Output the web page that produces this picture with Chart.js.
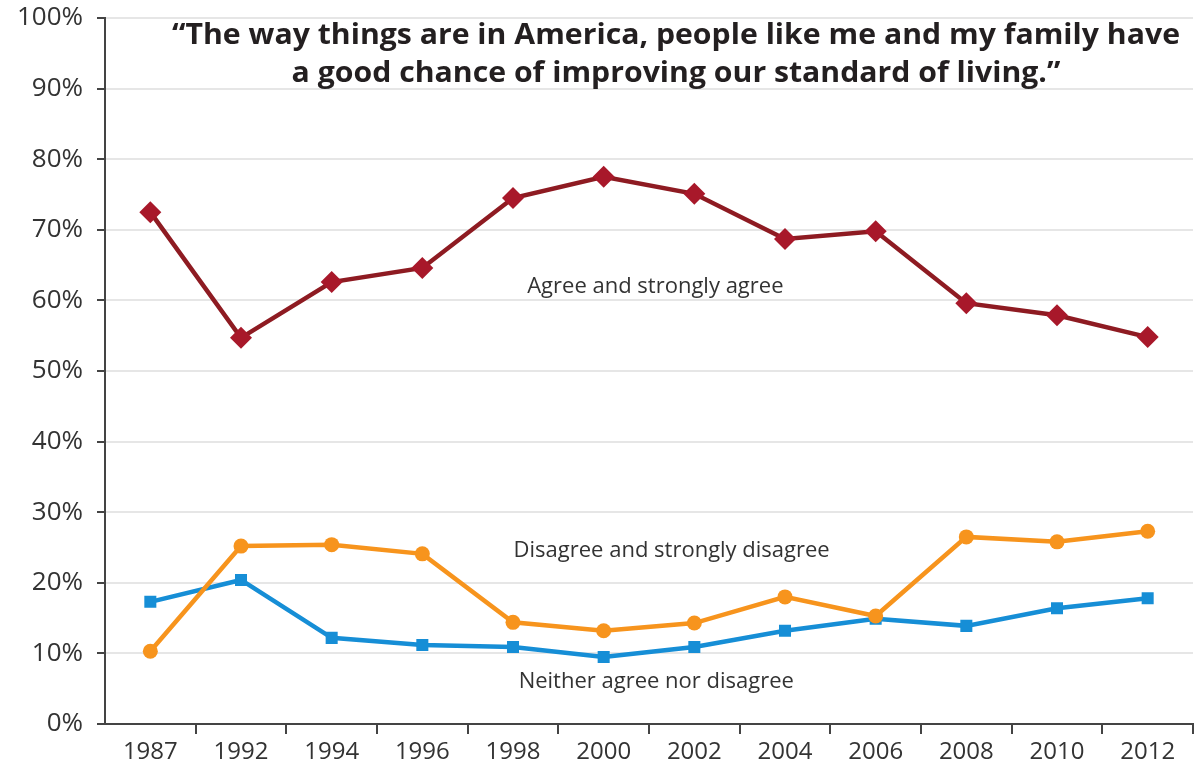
<!DOCTYPE html>
<html>
<head>
<meta charset="utf-8">
<script src="https://cdn.jsdelivr.net/npm/chart.js@4/dist/chart.umd.min.js"></script>
<style>
  html, body { margin: 0; padding: 0; background: #fff; }
  #wrap { width: 1204px; height: 778px; }
</style>
</head>
<body>
<div id="wrap"><canvas id="chart"></canvas></div>
<script>
// Survey years
const years = ['1987', '1992', '1994', '1996', '1998', '2000', '2002', '2004', '2006', '2008', '2010', '2012'];

// Percent of respondents
const agree = [72.5, 54.7, 62.6, 64.6, 74.5, 77.5, 75.1, 68.7, 69.8, 59.6, 57.9, 54.8];
const disagree = [10.3, 25.2, 25.4, 24.1, 14.4, 13.2, 14.3, 18.0, 15.3, 26.5, 25.8, 27.3];
const neither = [17.3, 20.4, 12.2, 11.2, 10.9, 9.5, 10.9, 13.2, 14.9, 13.9, 16.4, 17.8];

const yTicks = [0, 10, 20, 30, 40, 50, 60, 70, 80, 90, 100];

const titleLines = [
  '\u201CThe way things are in America, people like me and my family have',
  'a good chance of improving our standard of living.\u201D'
];

// inline series labels: text, category position, value position
const seriesLabels = [
  { text: 'Agree and strongly agree', at: 5.57, value: 62.0 },
  { text: 'Disagree and strongly disagree', at: 5.75, value: 24.5 },
  { text: 'Neither agree nor disagree', at: 5.58, value: 6.0 }
];

const textColor = '#333333';

// Draws the quote and the series labels inside the plot
const overlayText = {
  id: 'overlayText',
  afterDatasetsDraw(chart) {
    const { ctx, chartArea, scales } = chart;
    ctx.save();
    ctx.fillStyle = '#231f20';
    ctx.textAlign = 'center';
    ctx.textBaseline = 'middle';
    ctx.font = 'bold 29px "Open Sans"';
    const w = ctx.measureText(titleLines[0]).width;
    const sx = 1008 / w;
    const cx = 676;
    ctx.translate(cx, 0);
    ctx.scale(sx, 1);
    ctx.fillText(titleLines[0], 0, chartArea.top + 18);
    ctx.fillText(titleLines[1], 0, chartArea.top + 56);
    ctx.restore();

    ctx.save();
    ctx.fillStyle = textColor;
    ctx.textAlign = 'center';
    ctx.textBaseline = 'middle';
    ctx.font = '22px "Open Sans"';
    const step = scales.x.getPixelForValue(1) - scales.x.getPixelForValue(0);
    seriesLabels.forEach(l => {
      const x = scales.x.getPixelForValue(0) + l.at * step;
      const y = scales.y.getPixelForValue(l.value);
      ctx.fillText(l.text, x, y);
    });
    ctx.restore();
  }
};

new Chart(document.getElementById('chart'), {
  type: 'line',
  data: {
    labels: years,
    datasets: [
      {
        label: 'Agree and strongly agree',
        data: agree,
        borderColor: '#8e1b22',
        backgroundColor: '#a8182a',
        borderWidth: 4.5,
        pointStyle: 'rectRot',
        pointRadius: 11,
        pointBorderWidth: 0,
        tension: 0
      },
      {
        label: 'Disagree and strongly disagree',
        data: disagree,
        borderColor: '#f7941d',
        backgroundColor: '#f7941d',
        borderWidth: 4.5,
        pointStyle: 'circle',
        pointRadius: 7.5,
        pointBorderWidth: 0,
        tension: 0
      },
      {
        label: 'Neither agree nor disagree',
        data: neither,
        borderColor: '#168ed6',
        backgroundColor: '#168ed6',
        borderWidth: 4.5,
        pointStyle: 'rect',
        pointRadius: 8.5,
        pointBorderWidth: 0,
        tension: 0
      }
    ]
  },
  options: {
    responsive: true,
    maintainAspectRatio: false,
    animation: false,
    layout: { padding: { top: 18, right: 9, left: 0, bottom: 0 } },
    plugins: {
      legend: { display: false },
      tooltip: { enabled: false }
    },
    scales: {
      x: {
        offset: true,
        grid: {
          display: true,
          offset: true,
          drawOnChartArea: false,
          tickLength: 10,
          tickColor: ctx => (ctx.index === 0 ? 'rgba(0,0,0,0)' : '#444'),
          lineWidth: 2
        },
        border: { color: '#444', width: 2 },
        ticks: {
          color: textColor,
          font: { family: 'Open Sans', size: 24 },
          padding: 4,
          maxRotation: 0
        },
        afterFit(scale) { scale.height = 54; }
      },
      y: {
        min: 0,
        max: 100,
        afterBuildTicks(scale) { scale.ticks = yTicks.map(v => ({ value: v })); },
        grid: {
          color: '#e6e6e6',
          lineWidth: 2,
          tickLength: 8,
          tickColor: '#444'
        },
        border: { color: '#444', width: 2 },
        ticks: {
          color: textColor,
          font: { family: 'Open Sans', size: 26 },
          padding: 14,
          callback: v => v + '%'
        },
        afterFit(scale) {
          scale.width = 105;
          scale.paddingTop = 0;
          scale.paddingBottom = 0;
        }
      }
    }
  },
  plugins: [overlayText]
});
</script>
</body>
</html>
